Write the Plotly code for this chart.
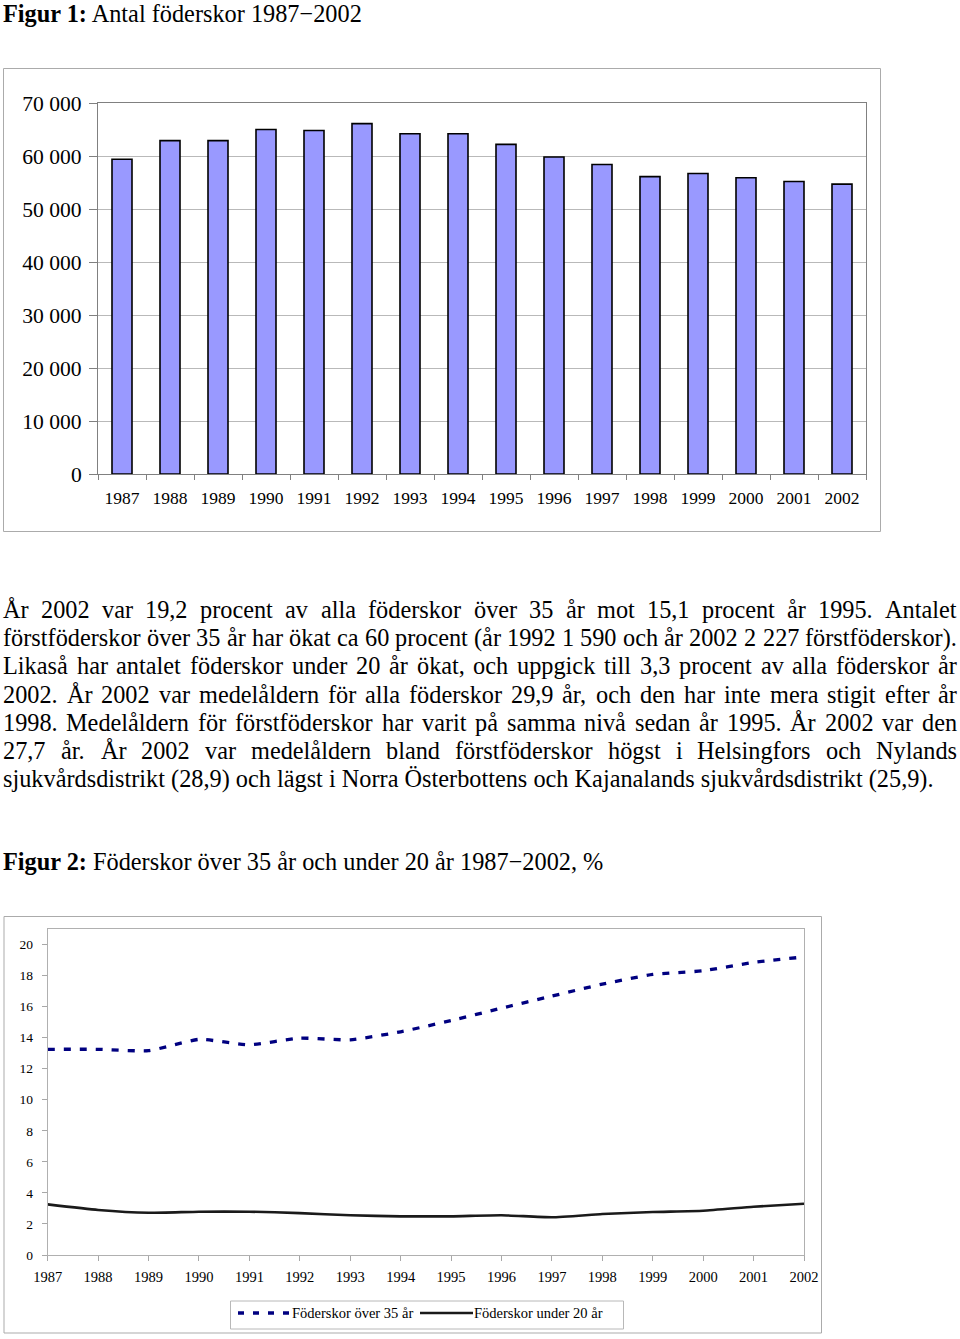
import plotly.graph_objects as go

# ---------------- data ----------------
years = ["1987", "1988", "1989", "1990", "1991", "1992", "1993", "1994",
         "1995", "1996", "1997", "1998", "1999", "2000", "2001", "2002"]
births = [59400, 62900, 62900, 65000, 64800, 66100, 64200, 64200,
          62200, 59800, 58400, 56100, 56700, 55900, 55200, 54700]
over35 = [13.25, 13.25, 13.16, 13.89, 13.54, 13.97, 13.86, 14.38,
          15.1, 15.9, 16.68, 17.45, 18.07, 18.31, 18.85, 19.2]
under20 = [3.26, 2.9, 2.72, 2.79, 2.79, 2.70, 2.56, 2.49,
           2.49, 2.56, 2.43, 2.64, 2.77, 2.85, 3.11, 3.3]
y1_ticks = [0, 10000, 20000, 30000, 40000, 50000, 60000, 70000]
y1_labels = ["0", "10 000", "20 000", "30 000", "40 000", "50 000", "60 000", "70 000"]
y2_ticks = [0, 2, 4, 6, 8, 10, 12, 14, 16, 18, 20]
series_names = ["Föderskor över 35 år", "Föderskor under 20 år"]

title1_bold = "Figur 1:"
title1_rest = "Antal föderskor 1987−2002"
title2_bold = "Figur 2:"
title2_rest = "Föderskor över 35 år och under 20 år 1987−2002, %"
para_lines = [
    "År 2002 var 19,2 procent av alla föderskor över 35 år mot 15,1 procent år 1995. Antalet",
    "förstföderskor över 35 år har ökat ca 60 procent (år 1992 1 590 och år 2002 2 227 förstföderskor).",
    "Likaså har antalet föderskor under 20 år ökat, och uppgick till 3,3 procent av alla föderskor år",
    "2002. År 2002 var medelåldern för alla föderskor 29,9 år, och den har inte mera stigit efter år",
    "1998. Medelåldern för förstföderskor har varit på samma nivå sedan år 1995. År 2002 var den",
    "27,7 år. År 2002 var medelåldern bland förstföderskor högst i Helsingfors och Nylands",
    "sjukvårdsdistrikt (28,9) och lägst i Norra Österbottens och Kajanalands sjukvårdsdistrikt (25,9).",
]

# ---------------- helpers ----------------
W, H = 960, 1339
FONT = "Liberation Serif, Times New Roman, serif"
FS = 24.3
WFACTOR = 1.0


def px(x):
    return x / W


def py(y):
    return 1 - y / H


# Times metrics (1/1000 em) for justification
_w = {' ': 250, ',': 250, '.': 250, '(': 333, ')': 333, '%': 833, '−': 564, ':': 278, '-': 333}
for d in "0123456789":
    _w[d] = 500
_w.update(dict(a=444, b=500, c=444, d=500, e=444, f=333, g=500, h=500, i=278, j=278, k=500,
               l=278, m=778, n=500, o=500, p=500, q=500, r=333, s=389, t=278, u=500, v=500,
               w=722, x=500, y=500, z=444))
_w.update({'å': 444, 'ä': 444, 'ö': 500, 'Å': 722, 'Ä': 722, 'Ö': 722})
_w.update(dict(A=722, B=667, C=667, D=722, E=611, F=556, G=722, H=722, I=333, J=389, K=722,
               L=611, M=889, N=722, O=722, P=556, Q=722, R=667, S=556, T=611, U=722, V=722,
               W=944, X=722, Y=722, Z=611))


def text_w(s, size):
    return sum(_w.get(ch, 500) for ch in s) * size / 1000.0 * WFACTOR


annotations = []


def add_text(x, y, text, size, xanchor="left", yanchor="middle"):
    annotations.append(dict(x=px(x), y=py(y), xref="paper", yref="paper", text=text,
                            showarrow=False, xanchor=xanchor, yanchor=yanchor,
                            borderpad=0, borderwidth=0,
                            font=dict(family=FONT, size=size, color="black")))


# ---------------- traces ----------------
fig = go.Figure()
fig.add_trace(go.Bar(x=years, y=births, xaxis="x", yaxis="y", showlegend=False,
                     marker=dict(color="#9999FF", line=dict(color="black", width=1.6))))
fig.add_trace(go.Scatter(x=years, y=over35, xaxis="x2", yaxis="y2", mode="lines",
                         name=series_names[0], showlegend=False, cliponaxis=False,
                         line=dict(color="#000080", width=3.3, dash="7px,9px",
                                   shape="spline", smoothing=0.5)))
fig.add_trace(go.Scatter(x=years, y=under20, xaxis="x2", yaxis="y2", mode="lines",
                         name=series_names[1], showlegend=False, cliponaxis=False,
                         line=dict(color="#1a1a1a", width=2.6, shape="spline", smoothing=0.5)))

# ---------------- texts ----------------
add_text(3, 13.5, f"<b>{title1_bold}</b> {title1_rest}", FS)
add_text(3, 861.5, f"<b>{title2_bold}</b> {title2_rest}", FS)

LEFT, RIGHT = 3, 957
for i, line in enumerate(para_lines):
    yc = 609.5 + 28.2 * i
    if i == len(para_lines) - 1:
        add_text(LEFT, yc, line, FS)
        continue
    words = line.split(" ")
    ws = [text_w(wd, FS) for wd in words]
    gap = (RIGHT - LEFT - sum(ws)) / (len(words) - 1)
    x = LEFT
    for j, wd in enumerate(words):
        if j == len(words) - 1:
            add_text(RIGHT, yc, wd, FS, xanchor="right")
        else:
            add_text(x, yc, wd, FS)
        x += ws[j] + gap

# legend (figure 2)
add_text(291.5, 1313, series_names[0], 14.5)
add_text(474, 1313, series_names[1], 14.5)

shapes = [
    dict(type="rect", xref="paper", yref="paper", x0=px(3.5), x1=px(880.5), y0=py(68.5), y1=py(531.5),
         line=dict(color="#ABABAB", width=1)),
    dict(type="rect", xref="paper", yref="paper", x0=px(4), x1=px(821.5), y0=py(916.5), y1=py(1333),
         line=dict(color="#ABABAB", width=1)),
    dict(type="rect", xref="paper", yref="paper", x0=px(230.5), x1=px(623.5), y0=py(1301), y1=py(1329),
         line=dict(color="#B8B8B8", width=1)),
    dict(type="line", xref="paper", yref="paper", x0=px(238), x1=px(290), y0=py(1313), y1=py(1313),
         line=dict(color="#000080", width=3.3, dash="6px,9px")),
    dict(type="line", xref="paper", yref="paper", x0=px(420), x1=px(473), y0=py(1313), y1=py(1313),
         line=dict(color="#1a1a1a", width=2.6)),
]

# ---------------- layout ----------------
fig.update_layout(
    width=W, height=H, margin=dict(l=0, r=0, t=0, b=0, pad=0, autoexpand=False),
    paper_bgcolor="white", plot_bgcolor="white",
    bargap=1 - 20 / 48,
    annotations=annotations, shapes=shapes,
    xaxis=dict(domain=[px(98), px(866)], anchor="y", type="category", automargin=False,
               tickson="boundaries", ticks="outside", ticklen=5, tickcolor="#808080",
               showline=True, linecolor="#808080", mirror=True, showgrid=False,
               tickfont=dict(family=FONT, size=17.5, color="black"), ticklabelstandoff=8),
    yaxis=dict(domain=[py(474), py(103)], anchor="x", range=[0, 70000], automargin=False,
               tickvals=y1_ticks, ticktext=y1_labels, ticks="outside", ticklen=8,
               tickcolor="#808080", showline=True, linecolor="#808080", mirror=True,
               showgrid=True, gridcolor="#B9B9B9", gridwidth=1, zeroline=False,
               tickfont=dict(family=FONT, size=21.6, color="black"), ticklabelstandoff=3),
    xaxis2=dict(domain=[px(47.7), px(804)], anchor="y2", type="category", range=[0, 15],
                automargin=False,
                ticks="outside", ticklen=5, tickcolor="#A8A8A8",
                showline=True, linecolor="#B0B0B0", mirror=True, showgrid=False,
                tickfont=dict(family=FONT, size=14.5, color="black"), ticklabelstandoff=4),
    yaxis2=dict(domain=[py(1255), py(929)], anchor="x2", range=[0, 21], automargin=False,
                tickvals=y2_ticks, ticks="outside", ticklen=5, tickcolor="#A8A8A8",
                showline=True, linecolor="#B0B0B0", mirror=True, showgrid=False,
                zeroline=False,
                tickfont=dict(family=FONT, size=13.5, color="black"), ticklabelstandoff=6),
)

fig.write_html("out.html")
